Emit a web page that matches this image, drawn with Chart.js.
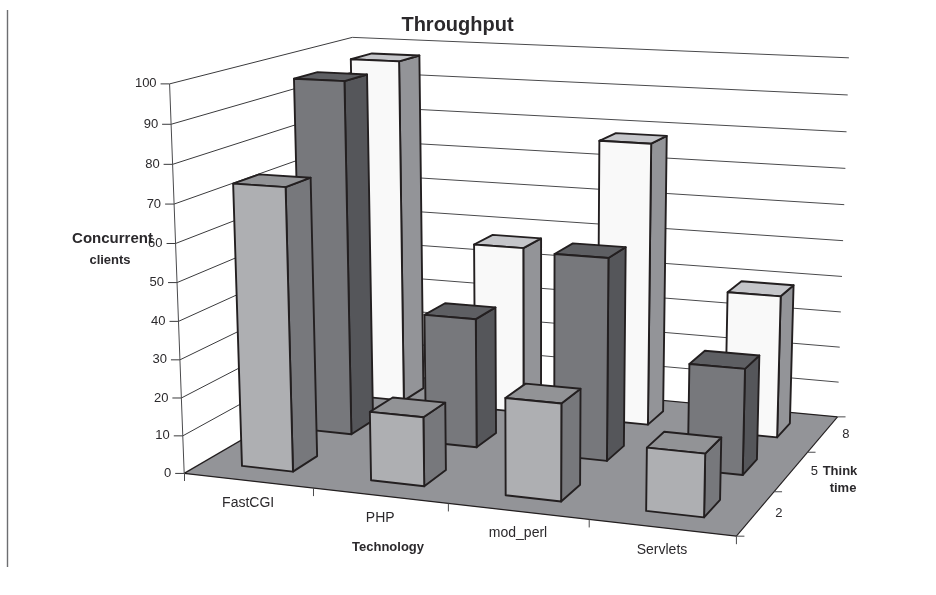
<!DOCTYPE html>
<html>
<head>
<meta charset="utf-8">
<title>Throughput</title>
<script src="https://cdn.jsdelivr.net/npm/chart.js@4/dist/chart.umd.min.js"></script>
<style>
  html, body { margin: 0; padding: 0; background: #fff; }
  canvas { display: block; }
</style>
</head>
<body>
<canvas id="chart" width="936" height="595"></canvas>
<script>
const technologies = ['FastCGI', 'PHP', 'mod_perl', 'Servlets'];
const thinkTimes = ['2', '5', '8'];
const clientsThink2 = [74, 18, 25, 16];
const clientsThink5 = [96, 35, 54, 28];
const clientsThink8 = [97, 47, 78, 39];

// face colours per think time row: front, side, top
const rowColors = {
  '2': ['#aeafb2', '#77787c', '#929396'],
  '5': ['#77787c', '#55565a', '#5e5f63'],
  '8': ['#f9f9f9', '#939498', '#c5c6ca']
};

const INK = '#231f20';
const TEXT = '#2b292c';
const FONT = '"Liberation Sans", Arial, sans-serif';
const DEPTH_PERCENT = 0.4;

// Where known points of the plot box (x, value, depth, all 0..1) land on the canvas.
// The projection below is fitted to these.
const boxFrame = [
  [0, 0, 0, 184.5, 473], [1, 0, 0, 736, 535], [1, 0, 1, 837, 417], [0, 0, 1, 359, 372],
  [0, 1, 0, 170, 84], [0, 1, 1, 352, 37], [1, 1, 1, 849, 58],
  [0.25, 0, 0, 313, 488], [0.5, 0, 0, 448, 503.5], [0.75, 0, 0, 589, 521.5],
  [1, 0, 1 / 3, 775, 491.5], [1, 0, 2 / 3, 808, 451.5],
  [0, 0.5, 0, 177, 282.5], [1, 0.5, 1, 843, 241]
];

// least squares fit of a projective map, solved with plain Gaussian elimination
function fitProjection(points) {
  const n = 11;
  const A = Array.from({ length: n }, () => new Array(n + 1).fill(0));
  const addRow = (row, rhs) => {
    for (let i = 0; i < n; i++) {
      for (let j = 0; j < n; j++) A[i][j] += row[i] * row[j];
      A[i][n] += row[i] * rhs;
    }
  };
  points.forEach(([u, v, w, px, py]) => {
    addRow([1, u, v, w, 0, 0, 0, 0, -px * u, -px * v, -px * w], px);
    addRow([0, 0, 0, 0, 1, u, v, w, -py * u, -py * v, -py * w], py);
  });
  for (let c = 0; c < n; c++) {
    let pivot = c;
    for (let r = c + 1; r < n; r++) if (Math.abs(A[r][c]) > Math.abs(A[pivot][c])) pivot = r;
    [A[c], A[pivot]] = [A[pivot], A[c]];
    for (let r = 0; r < n; r++) {
      if (r === c) continue;
      const f = A[r][c] / A[c][c];
      for (let k = c; k <= n; k++) A[r][k] -= f * A[c][k];
    }
  }
  const m = A.map((row, i) => row[n] / row[i]);
  return (u, v, w) => {
    const d = 1 + m[8] * u + m[9] * v + m[10] * w;
    return [(m[0] + m[1] * u + m[2] * v + m[3] * w) / d, (m[4] + m[5] * u + m[6] * v + m[7] * w) / d];
  };
}

const project = fitProjection(boxFrame);

function line(ctx, a, b, color, width) {
  ctx.strokeStyle = color;
  ctx.lineWidth = width;
  ctx.beginPath();
  ctx.moveTo(a[0], a[1]);
  ctx.lineTo(b[0], b[1]);
  ctx.stroke();
}

function face(ctx, pts, fill) {
  ctx.fillStyle = fill;
  ctx.strokeStyle = INK;
  ctx.lineWidth = 1.9;
  ctx.lineJoin = 'round';
  ctx.beginPath();
  pts.forEach((p, i) => (i ? ctx.lineTo(p[0], p[1]) : ctx.moveTo(p[0], p[1])));
  ctx.closePath();
  ctx.fill();
  ctx.stroke();
}

function label(ctx, text, x, y, font, align) {
  ctx.font = font + ' ' + FONT;
  ctx.fillStyle = TEXT;
  ctx.textAlign = align || 'center';
  ctx.textBaseline = 'middle';
  ctx.fillText(text, x, y);
}

// Chart.js keeps the scales and bar elements, this plugin paints them in perspective
const perspectivePlugin = {
  id: 'perspective',
  beforeDatasetsDraw(chart) {
    const { ctx, scales } = chart;
    const xs = scales.x, ys = scales.y, zs = scales.z;
    const uOf = px => (px - xs.left) / xs.width;
    const vOf = px => (ys.bottom - px) / ys.height;
    const wOf = i => zs.getDecimalForPixel(zs.getPixelForValue(i));
    const depth = (1 / thinkTimes.length) * DEPTH_PERCENT;

    ctx.save();

    // page rule on the left
    line(ctx, [7.5, 10], [7.5, 567], '#6d6e71', 1.4);

    // floor
    ctx.fillStyle = '#939498';
    ctx.beginPath();
    [[0, 0, 0], [1, 0, 0], [1, 0, 1], [0, 0, 1]].forEach((c, i) => {
      const p = project(c[0], c[1], c[2]);
      i ? ctx.lineTo(p[0], p[1]) : ctx.moveTo(p[0], p[1]);
    });
    ctx.closePath();
    ctx.fill();
    line(ctx, project(0, 0, 0), project(1, 0, 0), INK, 1.3);
    line(ctx, project(0, 0, 0), project(0, 0, 1), INK, 1.3);
    line(ctx, project(1, 0, 0), project(1, 0, 1), INK, 1.1);
    line(ctx, project(0, 0, 1), project(1, 0, 1), INK, 1.1);

    // value gridlines on both walls, value ticks and labels
    ys.ticks.forEach(t => {
      const v = vOf(ys.getPixelForValue(t.value));
      const front = project(0, v, 0);
      const back = project(0, v, 1);
      if (t.value > 0) {
        line(ctx, front, back, '#3a3a3c', 1);
        line(ctx, back, project(1, v, 1), '#4a4a4c', 1);
      }
      line(ctx, [front[0] - 9, front[1]], front, '#3a3a3c', 1);
      label(ctx, t.label, front[0] - 13, front[1], '13px', 'right');
    });
    line(ctx, project(0, 0, 0), project(0, 1, 0), '#4a4a4c', 1);
    line(ctx, [184.5, 473], [184.5, 481], '#4a4a4c', 1);

    // technology axis
    technologies.forEach((name, i) => {
      const u = uOf(xs.getPixelForValue(i));
      const p = project(u, 0, 0);
      label(ctx, name, p[0], p[1] + 22, '14px');
      const edge = project(uOf(xs.getPixelForValue(i)) + 0.5 / technologies.length, 0, 0);
      line(ctx, edge, [edge[0], edge[1] + 8], '#4a4a4c', 1);
    });

    // think time axis
    thinkTimes.forEach((name, i) => {
      const w = wOf(i);
      const p = project(1, 0, w);
      label(ctx, name, p[0] + 23, p[1], '13px');
      const edge = project(1, 0, w + 0.5 / thinkTimes.length);
      line(ctx, edge, [edge[0] + 8, edge[1]], '#4a4a4c', 1);
    });
    const corner = project(1, 0, 0);
    line(ctx, corner, [corner[0] + 8, corner[1]], '#4a4a4c', 1);

    // bars, back row first and left to right inside a row
    for (let d = chart.data.datasets.length - 1; d >= 0; d--) {
      const colors = rowColors[thinkTimes[d]];
      const w0 = wOf(d) - depth / 2;
      const w1 = wOf(d) + depth / 2;
      chart.getDatasetMeta(d).data.forEach(bar => {
        const u0 = uOf(bar.x - bar.width / 2);
        const u1 = uOf(bar.x + bar.width / 2);
        const v0 = vOf(bar.base);
        const v1 = vOf(bar.y);
        face(ctx, [project(u1, v0, w0), project(u1, v0, w1), project(u1, v1, w1), project(u1, v1, w0)], colors[1]);
        face(ctx, [project(u0, v1, w0), project(u1, v1, w0), project(u1, v1, w1), project(u0, v1, w1)], colors[2]);
        face(ctx, [project(u0, v0, w0), project(u1, v0, w0), project(u1, v1, w0), project(u0, v1, w0)], colors[0]);
      });
    }

    // titles
    label(ctx, 'Throughput', 457.5, 25, 'bold 20px');
    label(ctx, 'Concurrent', 112.5, 239, 'bold 15px');
    label(ctx, 'clients', 110, 260, 'bold 13px');
    label(ctx, 'Technology', 388, 547, 'bold 13px');
    label(ctx, 'Think', 840, 471, 'bold 13px');
    label(ctx, 'time', 843, 488, 'bold 13px');

    ctx.restore();
    return false; // the flat bars are not painted
  }
};

new Chart(document.getElementById('chart'), {
  type: 'bar',
  data: {
    labels: technologies,
    datasets: [
      { label: 'Think time 2', data: clientsThink2 },
      { label: 'Think time 5', data: clientsThink5 },
      { label: 'Think time 8', data: clientsThink8 }
    ]
  },
  options: {
    responsive: false,
    animation: false,
    grouped: false,
    barPercentage: 0.4,
    categoryPercentage: 1,
    plugins: { legend: { display: false }, title: { display: false }, tooltip: { enabled: false } },
    scales: {
      x: { display: false, offset: true },
      y: { display: false, min: 0, max: 100, ticks: { stepSize: 10 } },
      z: { type: 'category', axis: 'x', labels: thinkTimes, display: false, offset: true }
    }
  },
  plugins: [perspectivePlugin]
});
</script>
</body>
</html>
